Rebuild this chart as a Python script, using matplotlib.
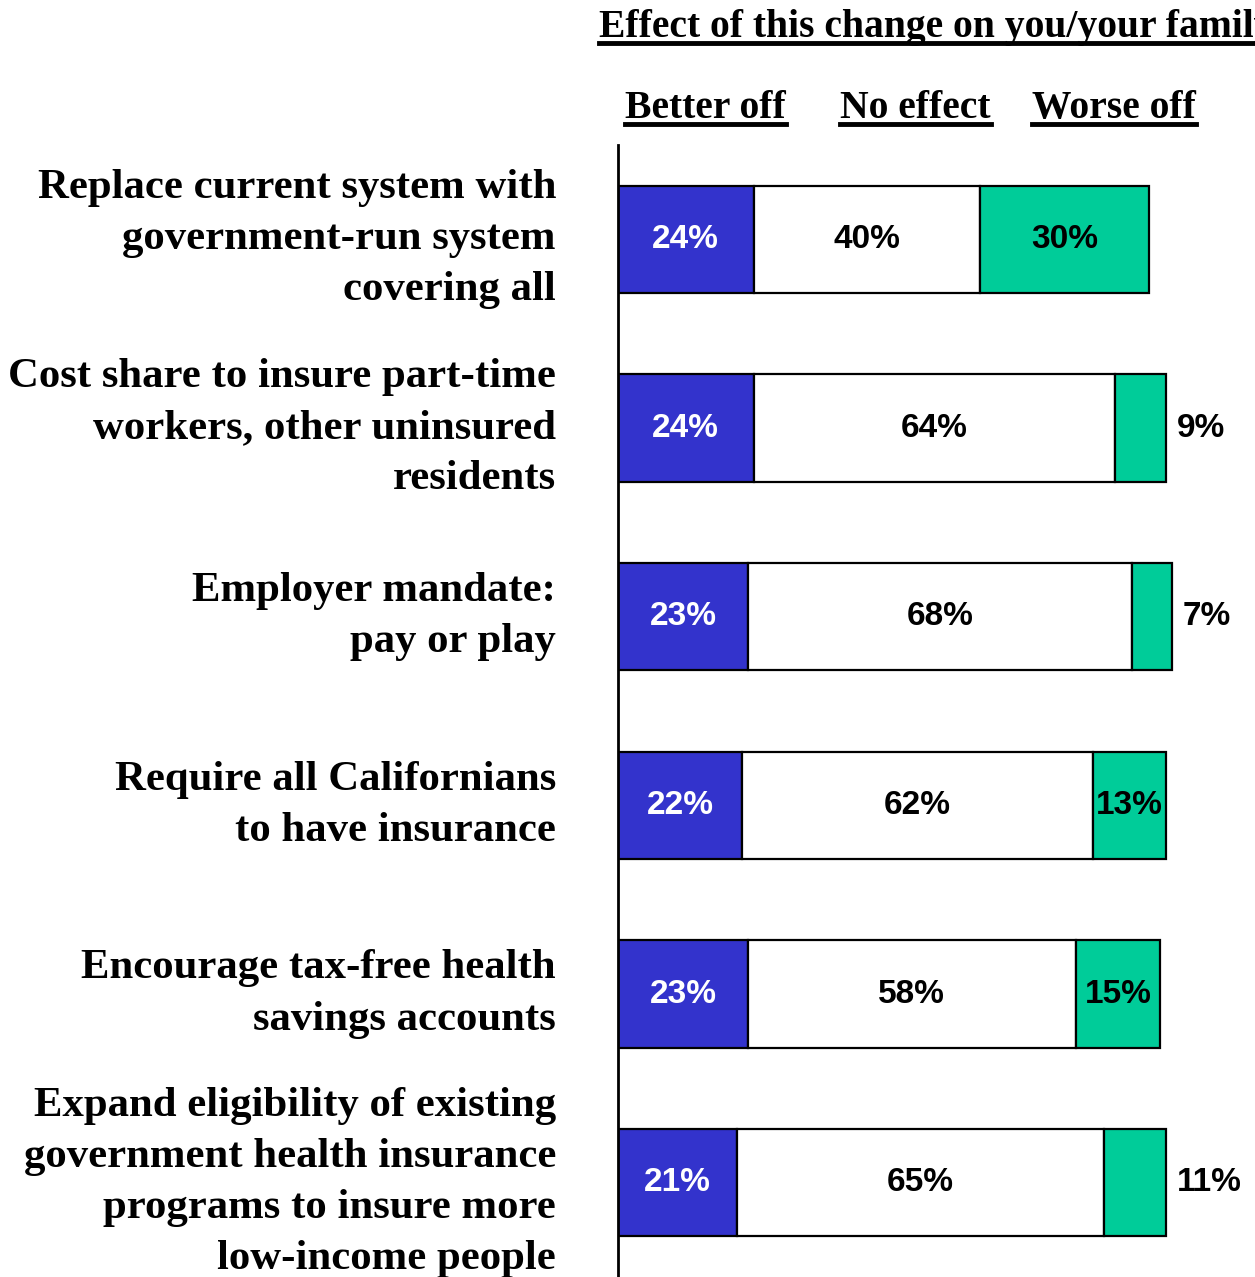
import numpy as np
import matplotlib.pyplot as plt
from matplotlib.lines import Line2D

plt.rcParams["font.family"] = ["Liberation Serif", "DejaVu Serif"]

categories = [
    "Replace current system with\ngovernment-run system\ncovering all",
    "Cost share to insure part-time\nworkers, other uninsured\nresidents",
    "Employer mandate:\npay or play",
    "Require all Californians\nto have insurance",
    "Encourage tax-free health\nsavings accounts",
    "Expand eligibility of existing\ngovernment health insurance\nprograms to insure more\nlow-income people",
]
better_off = [24, 24, 23, 22, 23, 21]
no_effect = [40, 64, 68, 62, 58, 65]
worse_off = [30, 9, 7, 13, 15, 11]
series_names = ["Better off", "No effect", "Worse off"]
title = "Effect of this change on you/your family"

colors = ["#3333CC", "#FFFFFF", "#00CC99"]
W, H = 1255, 1277
fig = plt.figure(figsize=(W / 100, H / 100), dpi=100)
ax = fig.add_axes([618 / W, 0, 637 / W, (H - 145) / H])

y = np.arange(len(categories))
bh = 0.57
left = np.zeros(len(categories))
for vals, c in zip([better_off, no_effect, worse_off], colors):
    ax.barh(y, vals, left=left, height=bh, color=c, edgecolor="black", linewidth=1.6, zorder=2)
    left = left + np.array(vals)

lab_font = dict(family=["Liberation Sans", "DejaVu Sans"], fontsize=24, fontweight="bold")
for i in range(len(categories)):
    b, n, w = better_off[i], no_effect[i], worse_off[i]
    ax.text(b / 2, y[i], f"{b}%", ha="center", va="center", color="white", **lab_font)
    ax.text(b + n / 2, y[i], f"{n}%", ha="center", va="center", color="black", **lab_font)
    if w >= 12:
        ax.text(b + n + w / 2, y[i], f"{w}%", ha="center", va="center", color="black", **lab_font)
    else:
        ax.text(b + n + w + 2, y[i], f"{w}%", ha="left", va="center", color="black", **lab_font)

# category labels on the left of the axis
for i, cat in enumerate(categories):
    ax.text(-62 / 637, y[i], cat, transform=ax.get_yaxis_transform(), ha="right", va="center",
            fontsize=30.8, fontweight="bold", linespacing=1.45, clip_on=False)

ax.set_xlim(0, (W - 618) / 5.65)
ax.set_ylim(5.5, -0.5)
ax.set_xticks([])
ax.set_yticks([])
for s in ["top", "right", "bottom"]:
    ax.spines[s].set_visible(False)
ax.spines["left"].set_linewidth(2)
ax.patch.set_alpha(0)


def underlined(x, yb, s):
    t = fig.text(x / W, 1 - yb / H, s, fontsize=28.5, fontweight="bold", ha="left", va="baseline")
    fig.canvas.draw()
    bb = t.get_window_extent()
    yl = 1 - (yb + 6) / H
    fig.add_artist(Line2D([bb.x0 / W, bb.x1 / W], [yl, yl], color="black", linewidth=3.5))


underlined(599, 37, title)
for x, s in zip([625, 840, 1032], series_names):
    underlined(x, 118, s)

fig.savefig("out.png", dpi=100)
